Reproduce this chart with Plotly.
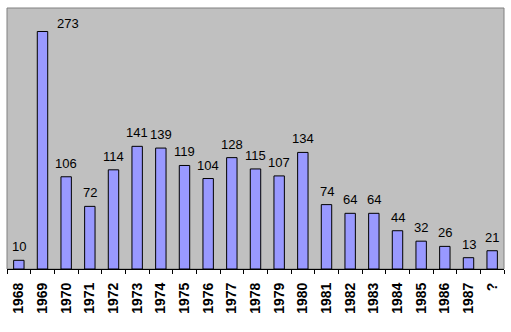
import plotly.graph_objects as go

years = ["1968", "1969", "1970", "1971", "1972", "1973", "1974", "1975", "1976", "1977",
         "1978", "1979", "1980", "1981", "1982", "1983", "1984", "1985", "1986", "1987", "?"]
counts = [10, 273, 106, 72, 114, 141, 139, 119, 104, 128,
          115, 107, 134, 74, 64, 64, 44, 32, 26, 13, 21]

fig = go.Figure()
fig.add_trace(go.Bar(
    x=years, y=counts,
    marker=dict(color="#9999ff", line=dict(color="black", width=1)),
    hoverinfo="skip",
))

# value labels above each bar (category index positions); the tallest one sits beside its bar
label_font = dict(family="Liberation Sans, Arial", size=13, color="black")
for i, v in enumerate(counts):
    if v == max(counts):
        fig.add_annotation(x=i, y=v, text=str(v), showarrow=False,
                           xanchor="center", yanchor="bottom", xshift=25, yshift=-2,
                           font=label_font)
    else:
        fig.add_annotation(x=i, y=v, text=str(v), showarrow=False,
                           xanchor="center", yanchor="bottom", yshift=4,
                           font=label_font)

fig.update_layout(
    width=511, height=332,
    margin=dict(l=7, r=7, t=8, b=63),
    paper_bgcolor="white",
    plot_bgcolor="#c0c0c0",
    bargap=0.56,
    showlegend=False,
    xaxis=dict(
        type="category",
        range=[-0.5, len(years) - 0.5],
        tickangle=-90,
        tickfont=dict(family="Liberation Sans, Arial", size=14, color="black", weight="bold"),
        ticks="outside", tickson="boundaries", ticklen=4, tickcolor="black",
        ticklabelstandoff=7,
        showline=True, linecolor="black", linewidth=1,
        showgrid=False,
    ),
    yaxis=dict(
        range=[0, 300],
        showticklabels=False, showgrid=False, zeroline=False,
        showline=False,
    ),
    shapes=[dict(type="rect", xref="paper", yref="paper", x0=0, y0=0, x1=1, y1=1,
                 line=dict(color="#808080", width=1), layer="below")],
)

fig.write_html("out.html")
